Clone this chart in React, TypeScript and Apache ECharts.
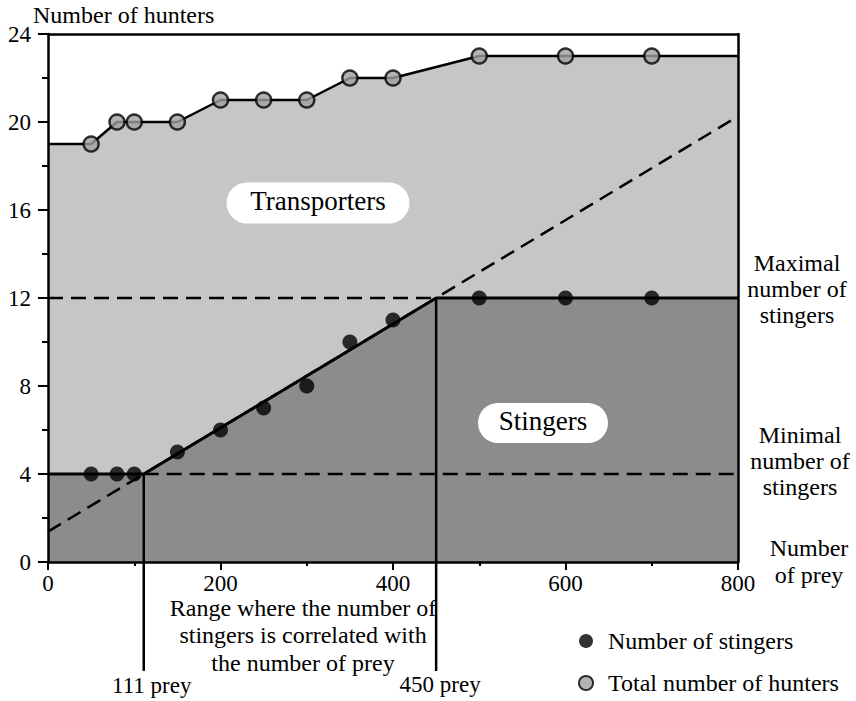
import React, { useEffect, useRef } from "react";
import * as echarts from "echarts";

// ---- Data ----
const preyCounts = [50, 80, 100, 150, 200, 250, 300, 350, 400, 500, 600, 700];
const stingerCounts = [4, 4, 4, 5, 6, 7, 8, 10, 11, 12, 12, 12];
const hunterCounts = [19, 20, 20, 20, 21, 21, 21, 22, 22, 23, 23, 23];
const hunterStart = 19; // total hunters line at 0 prey
const hunterEnd = 23; // total hunters line at 800 prey
const minStingers = 4;
const maxStingers = 12;
const lowerPrey = 111;
const upperPrey = 450;
const preyMax = 800;
const huntersMax = 24;
const xTickStep = 200;
const yTickStep = 4;
const guideBottom = -4.95; // how far the 111 / 450 guides run below the axis (y units)

const FONT = "Liberation Serif";
const LIGHT = "#c6c6c6";
const DARK = "#8c8c8c";

export default function App() {
  const ref = useRef<HTMLDivElement>(null);

  useEffect(() => {
    if (!ref.current) return;
    const chart = echarts.init(ref.current, undefined, { renderer: "svg" });

    const hunterOutline: number[][] = [[0, hunterStart]]
      .concat(preyCounts.map((p, i) => [p, hunterCounts[i]]))
      .concat([[preyMax, hunterEnd]]);
    const stingerModel = [
      [0, minStingers],
      [lowerPrey, minStingers],
      [upperPrey, maxStingers],
      [preyMax, maxStingers],
    ];
    const slope = (maxStingers - minStingers) / (upperPrey - lowerPrey);
    const regression = [
      [0, minStingers - lowerPrey * slope],
      [preyMax, minStingers + (preyMax - lowerPrey) * slope],
    ];

    const axisLine = { show: true, onZero: false, lineStyle: { color: "#000", width: 2.5 } };
    const tickStyle = { color: "#000", width: 2 };
    const dashed = { color: "#000", width: 2.5, type: [15, 8] as any };

    chart.setOption({
      animation: false,
      backgroundColor: "#fff",
      textStyle: { fontFamily: FONT },
      grid: { left: 48, top: 34, width: 690, height: 528, containLabel: false },
      legend: {
        data: ["Number of stingers", "Total number of hunters"],
        orient: "vertical",
        left: 578,
        top: 629,
        padding: 0,
        itemWidth: 14,
        itemHeight: 14,
        itemGap: 18,
        icon: "circle",
        selectedMode: false,
        textStyle: { fontSize: 24, fontFamily: FONT, color: "#000", lineHeight: 24, padding: [0, 0, 0, 10] },
      },
      xAxis: [
        {
          type: "value",
          min: 0,
          max: preyMax,
          interval: xTickStep,
          z: 10,
          axisLine,
          axisTick: { show: true, length: 8, lineStyle: tickStyle },
          minorTick: { show: true, splitNumber: 2, length: 4, lineStyle: tickStyle },
          splitLine: { show: false },
          minorSplitLine: { show: false },
          axisLabel: { color: "#000", fontSize: 23, fontFamily: FONT, margin: 10 },
        },
        {
          type: "value",
          position: "top",
          min: 0,
          max: preyMax,
          z: 10,
          axisLine,
          axisTick: { show: false },
          axisLabel: { show: false },
          splitLine: { show: false },
        },
      ],
      yAxis: [
        {
          type: "value",
          min: 0,
          max: huntersMax,
          interval: yTickStep,
          z: 10,
          axisLine,
          axisTick: { show: true, length: 10, lineStyle: tickStyle },
          minorTick: { show: true, splitNumber: 2, length: 6, lineStyle: tickStyle },
          splitLine: { show: false },
          minorSplitLine: { show: false },
          axisLabel: { color: "#000", fontSize: 23, fontFamily: FONT, margin: 17 },
        },
        {
          type: "value",
          position: "right",
          min: 0,
          max: huntersMax,
          z: 10,
          axisLine,
          axisTick: { show: false },
          axisLabel: { show: false },
          splitLine: { show: false },
        },
      ],
      series: [
        {
          type: "line",
          name: "hunterArea",
          data: hunterOutline,
          symbol: "none",
          lineStyle: { color: "#000", width: 2.5 },
          areaStyle: { color: LIGHT, opacity: 1 },
          z: 1,
        },
        {
          type: "line",
          name: "stingerArea",
          data: stingerModel,
          symbol: "none",
          lineStyle: { width: 0 },
          areaStyle: { color: DARK, opacity: 1 },
          z: 2,
        },
        {
          type: "line",
          data: [[0, maxStingers], [upperPrey, maxStingers]],
          symbol: "none",
          lineStyle: dashed,
          z: 3,
        },
        {
          type: "line",
          data: [[lowerPrey, minStingers], [preyMax, minStingers]],
          symbol: "none",
          lineStyle: dashed,
          z: 3,
        },
        {
          type: "line",
          data: regression,
          symbol: "none",
          lineStyle: dashed,
          z: 3,
        },
        {
          type: "line",
          name: "stingerLine",
          data: stingerModel,
          symbol: "none",
          lineStyle: { color: "#000", width: 3 },
          z: 4,
        },
        {
          type: "line",
          data: [[lowerPrey, minStingers], [lowerPrey, guideBottom]],
          symbol: "none",
          clip: false,
          lineStyle: { color: "#000", width: 2.5 },
          z: 4,
        },
        {
          type: "line",
          data: [[upperPrey, maxStingers], [upperPrey, guideBottom]],
          symbol: "none",
          clip: false,
          lineStyle: { color: "#000", width: 2.5 },
          z: 4,
        },
        {
          type: "scatter",
          name: "Number of stingers",
          data: preyCounts.map((p, i) => [p, stingerCounts[i]]),
          symbol: "circle",
          symbolSize: 15,
          itemStyle: { color: "#000" },
          z: 6,
        },
        {
          type: "scatter",
          name: "Total number of hunters",
          data: preyCounts.map((p, i) => [p, hunterCounts[i]]),
          symbol: "circle",
          symbolSize: 15,
          itemStyle: { color: "#a0a0a0", borderColor: "#000", borderWidth: 2.5 },
          z: 6,
        },
      ],
    });

    const lowX = chart.convertToPixel({ xAxisIndex: 0 }, lowerPrey) as number;
    const highX = chart.convertToPixel({ xAxisIndex: 0 }, upperPrey) as number;

    const txt = (text: string, x: number, y: number, opts: any = {}) => ({
      type: "text",
      x,
      y,
      z: 20,
      style: {
        text,
        fontSize: 24,
        fontFamily: FONT,
        fill: "#000",
        align: "center",
        verticalAlign: "middle",
        lineHeight: 26,
        ...opts,
      },
    });
    const pill = (text: string, cx: number, cy: number, w: number, h: number) => ({
      type: "group",
      x: cx,
      y: cy,
      z: 20,
      children: [
        {
          type: "rect",
          shape: { x: -w / 2, y: -h / 2, width: w, height: h, r: h / 2 },
          style: { fill: "#fff" },
          z: 20,
        },
        {
          type: "text",
          x: 0,
          y: -2,
          z: 21,
          style: { text, fontSize: 27, fontFamily: FONT, fill: "#000", align: "center", verticalAlign: "middle" },
        },
      ],
    });

    chart.setOption({
      graphic: [
        txt("Number of hunters", 33, 15, { align: "left" }),
        txt("Maximal\nnumber of\nstingers", 797, 289),
        txt("Minimal\nnumber of\nstingers", 800, 461),
        txt("Number\nof prey", 809, 561, { lineHeight: 27 }),
        txt("Range where the number of\nstingers is correlated with\nthe number of prey", 303, 635, { lineHeight: 27.5 }),
        txt("111 prey", lowX + 8, 685, { fontSize: 23 }),
        txt("450 prey", highX + 4, 684, { fontSize: 23 }),
        pill("Transporters", 318, 203, 183, 41),
        pill("Stingers", 543, 423, 130, 40),
      ],
    });

    return () => chart.dispose();
  }, []);

  return (
    <div
      ref={ref}
      style={{ position: "fixed", left: 0, top: 0, width: 856, height: 701, background: "#fff" }}
    />
  );
}
